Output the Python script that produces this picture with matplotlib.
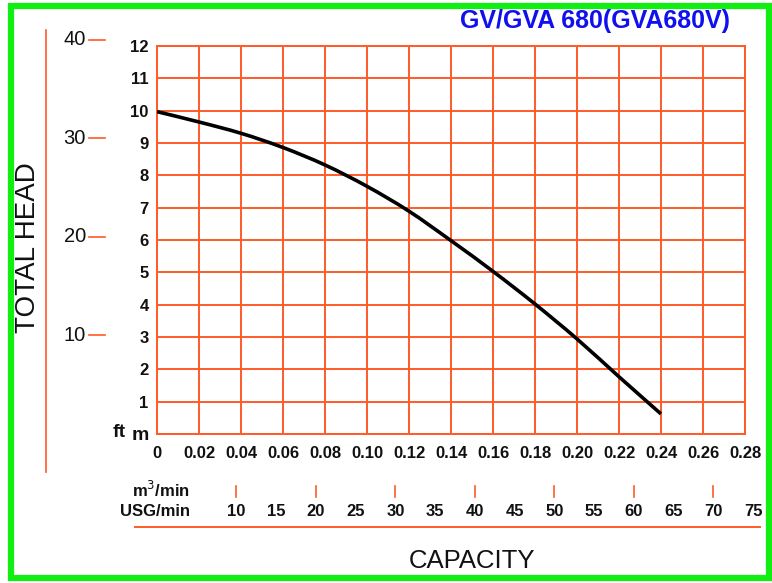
import matplotlib
matplotlib.use("Agg")
import matplotlib.pyplot as plt
import matplotlib.transforms as mtransforms
from matplotlib.lines import Line2D
from matplotlib.patches import Rectangle, PathPatch
from matplotlib.path import Path

plt.rcParams['font.family'] = ['Liberation Sans', 'DejaVu Sans']

# ---- data ----
flow_m3min = [0.00, 0.02, 0.04, 0.06, 0.08, 0.10, 0.12, 0.14, 0.16, 0.18, 0.20, 0.22, 0.24]
head_m = [9.97, 9.65, 9.30, 8.86, 8.32, 7.66, 6.89, 5.98, 5.03, 4.02, 2.94, 1.77, 0.62]
x_ticks = [0, 0.02, 0.04, 0.06, 0.08, 0.10, 0.12, 0.14, 0.16, 0.18, 0.20, 0.22, 0.24, 0.26, 0.28]
x_labels = ['0', '0.02', '0.04', '0.06', '0.08', '0.10', '0.12', '0.14', '0.16', '0.18',
            '0.20', '0.22', '0.24', '0.26', '0.28']
m_ticks = [1, 2, 3, 4, 5, 6, 7, 8, 9, 10, 11, 12]
ft_ticks = [10, 20, 30, 40]
usg_labels = [10, 15, 20, 25, 30, 35, 40, 45, 50, 55, 60, 65, 70, 75]
usg_marks = [10, 20, 30, 40, 50, 60, 70]
FT_PER_M = 3.2808
M3_PER_USG = 0.0037854
title = 'GV/GVA 680(GVA680V)'

W, H = 772, 583
fig = plt.figure(figsize=(W / 100, H / 100), dpi=100)
ax = fig.add_axes([157 / W, 1 - 434 / H, (745 - 157) / W, (434 - 46) / H])

grid_c = '#FF5A28'
txt_c = '#111111'
ax.set_xlim(0, 0.28)
ax.set_ylim(0, 12)
ax.set_xticks(x_ticks)
ax.set_yticks([0] + m_ticks)
ax.set_xticklabels(x_labels)
ax.set_yticklabels(['m'] + [str(v) for v in m_ticks])
ax.grid(True, color=grid_c, linewidth=1.4)
ax.set_axisbelow(True)
for s in ax.spines.values():
    s.set_color(grid_c)
    s.set_linewidth(1.4)
ax.tick_params(length=0, labelsize=12, pad=6)
ax.tick_params(axis='x', pad=9)
for lbl in ax.get_xticklabels() + ax.get_yticklabels():
    lbl.set_fontweight('bold')
    lbl.set_color(txt_c)
ax.get_yticklabels()[0].set_fontsize(14)

# smooth curve through the data points (Catmull-Rom -> cubic Bezier path)
pts = list(zip(flow_m3min, head_m))
verts = [pts[0]]
codes = [Path.MOVETO]
n = len(pts)
for i in range(n - 1):
    p0 = pts[i - 1] if i > 0 else pts[i]
    p1 = pts[i]
    p2 = pts[i + 1]
    p3 = pts[i + 2] if i + 2 < n else pts[i + 1]
    c1 = (p1[0] + (p2[0] - p0[0]) / 6, p1[1] + (p2[1] - p0[1]) / 6)
    c2 = (p2[0] - (p3[0] - p1[0]) / 6, p2[1] - (p3[1] - p1[1]) / 6)
    verts += [c1, c2, p2]
    codes += [Path.CURVE4] * 3
ax.add_patch(PathPatch(Path(verts, codes), facecolor='none', edgecolor='black',
                       linewidth=2.6, capstyle='butt', zorder=3))

# ft axis on the left
tr_fy = mtransforms.blended_transform_factory(fig.transFigure, ax.transData)
for ft in ft_ticks:
    y = ft / FT_PER_M
    fig.add_artist(Line2D([89 / W, 105 / W], [y, y], transform=tr_fy, color=grid_c, linewidth=1.2))
    fig.text(86 / W, y, str(ft), transform=tr_fy, ha='right', va='center',
             fontsize=14.5, color=txt_c)
fig.text(126 / W, 0.05, 'ft', transform=tr_fy, ha='right', va='center',
         fontsize=14, fontweight='bold', color=txt_c)
fig.add_artist(Line2D([46 / W, 46 / W], [1 - 30 / H, 1 - 472 / H], transform=fig.transFigure,
                      color=grid_c, linewidth=1.2))
fig.text(28 / W, 1 - 248 / H, 'TOTAL HEAD', rotation=90, ha='center', va='center',
         fontsize=20, color=txt_c)

# USG axis on the bottom
tr_xf = mtransforms.blended_transform_factory(ax.transData, fig.transFigure)
for g in usg_marks:
    x = g * M3_PER_USG
    fig.add_artist(Line2D([x, x], [1 - 486 / H, 1 - 497 / H], transform=tr_xf, color=grid_c, linewidth=1.2))
for g in usg_labels:
    x = g * M3_PER_USG
    fig.text(x, 1 - 512 / H, str(g), transform=tr_xf, ha='center', va='center',
             fontsize=12, fontweight='bold', color=txt_c)
fig.text(190 / W, 1 - 490 / H, 'm$^3$/min', ha='right', va='center', fontsize=12,
         fontweight='bold', color=txt_c)
fig.text(190 / W, 1 - 512 / H, 'USG/min', ha='right', va='center', fontsize=12,
         fontweight='bold', color=txt_c)
fig.add_artist(Line2D([135 / W, 760 / W], [1 - 527 / H, 1 - 527 / H], transform=fig.transFigure,
                      color=grid_c, linewidth=1.4))
fig.text(472 / W, 1 - 561 / H, 'CAPACITY', ha='center', va='center', fontsize=18.5, color=txt_c)

fig.text(595 / W, 1 - 21 / H, title, ha='center', va='center', fontsize=18,
         fontweight='bold', color='#1010EE')

fig.add_artist(Rectangle((10.5 / W, 5.5 / H), (769 - 10.5) / W, (577.5 - 5.5) / H,
                         transform=fig.transFigure, fill=False, edgecolor='#11EE11', linewidth=4.5))

fig.savefig('out.png', dpi=100)
